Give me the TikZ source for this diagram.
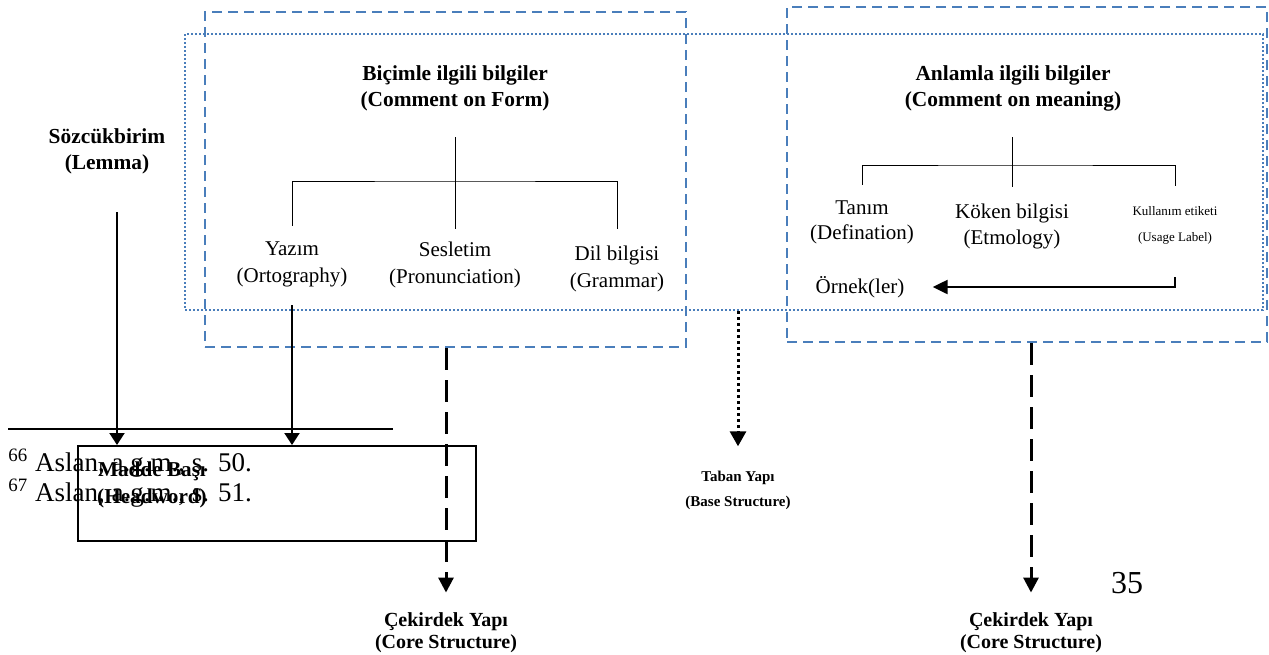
\documentclass[tikz,border=0pt]{standalone}
\usepackage{fontspec}
\setmainfont{Liberation Serif}
\usetikzlibrary{arrows.meta}
\definecolor{boxblue}{RGB}{74,126,187}

\begin{document}
\begin{tikzpicture}[x=0.5pt,y=-0.5pt,every node/.style={align=center,inner sep=0pt},
    txt/.style={font=\fontsize{10.5}{13}\selectfont},
    head/.style={font=\fontsize{10.7}{13}\selectfont\bfseries},
    core/.style={font=\fontsize{10}{11}\selectfont\bfseries},
    bluedash/.style={draw=boxblue,line width=1pt,dash pattern=on 5pt off 3pt},
    bluedot/.style={draw=boxblue,line width=1pt,dash pattern=on 1pt off 1pt},
    branch/.style={line width=0.5pt},
    arr/.style={line width=1pt,-{Triangle[width=7.5pt,length=6pt]}},
    dasharr/.style={line width=1.5pt,dash pattern=on 11pt off 5pt,-{Triangle[width=7.5pt,length=7.5pt]}},
    dotarr/.style={line width=1.5pt,dash pattern=on 1.5pt off 1.5pt,-{Triangle[width=8pt,length=7.5pt]}}]
\useasboundingbox (0,0) rectangle (1269,654);

\node[bluedash,minimum width=240.5pt,minimum height=167.5pt] (formbox) at (445.5,179.5) {};
\node[bluedash,minimum width=240pt,minimum height=167.5pt] (meanbox) at (1027,174.5) {};
\node[bluedot,minimum width=539pt,minimum height=138pt] (basebox) at (724,172) {};

% comment on form
\node[head] (form) at (455,88) {Biçimle ilgili bilgiler\\(Comment on Form)};
\node[txt,font=\fontsize{10.5}{13.5}\selectfont] (yazim) at (292,264) {Yazım\\(Ortography)};
\node[txt,font=\fontsize{10.5}{13.5}\selectfont] (ses) at (455,265) {Sesletim\\(Pronunciation)};
\node[txt,font=\fontsize{10.5}{13.5}\selectfont] (dil) at (617,269) {Dil bilgisi\\(Grammar)};
\coordinate (fs) at (455,137);
\coordinate (fj) at (455,181);
\draw[branch] (fs) -- ([yshift=6.5pt]ses.north);
\draw[branch] ([yshift=7.5pt]yazim.north) |- (fj) -| ([yshift=8.5pt]dil.north);

% comment on meaning
\node[head] (meaning) at (1013,88) {Anlamla ilgili bilgiler\\(Comment on meaning)};
\node[txt,font=\fontsize{10.5}{12.5}\selectfont] (tanim) at (862,222) {Tanım\\(Defination)};
\node[txt] (koken) at (1012,226) {Köken bilgisi\\(Etmology)};
\node[font=\fontsize{6.5}{13}\selectfont] (label) at (1175,225) {Kullanım etiketi\\(Usage Label)};
\node[txt] (ornek) at (860,287) {Örnek(ler)};
\coordinate (ms) at (1012,137);
\coordinate (mj) at (1012,165);
\draw[branch] (ms) -- ([yshift=8pt]koken.north);
\draw[branch] ([yshift=7.5pt]tanim.north) |- (mj) -| ([yshift=10pt]label.north);
\coordinate (lk) at (1175,277);
\draw[line width=1.2pt,-{Triangle[width=7pt,length=7.5pt]}] (lk) |- ([xshift=14pt]ornek.east);

% lemma and headword
\node[head] (lemma) at (107,151) {Sözcükbirim\\(Lemma)};
\draw[line width=0.7pt] (8,429) -- (393,429);
\node[anchor=west,align=left,font=\fontsize{13.5}{15}\selectfont] (notes) at (8,478)
  {\textsuperscript{66} Aslan, a.g.m., s. 50.\\\textsuperscript{67} Aslan, a.g.m., s. 51.};
\node[draw,line width=1pt,minimum width=199pt,minimum height=47.5pt] (headbox) at (277,493.5) {};
\node[font=\fontsize{10.6}{13.5}\selectfont\bfseries] (headword) at (152,485) {Madde Başı\\(Headword)};
\coordinate (la) at (117,212);
\coordinate (ya) at (292,305);
\draw[arr] (la) -- (la |- headbox.north);
\draw[arr] (ya) -- (ya |- headbox.north);

% structures
\node[font=\fontsize{7.5}{12.5}\selectfont\bfseries] (base) at (738,490) {Taban Yapı\\(Base Structure)};
\node[core] (core1) at (446,633) {Çekirdek Yapı\\(Core Structure)};
\node[core] (core2) at (1031,633) {Çekirdek Yapı\\(Core Structure)};
\draw[dotarr,shorten >=12pt] (basebox.south -| base) -- (base.north);
\draw[dasharr,shorten >=10pt] (formbox.south -| core1) -- (core1.north);
\draw[dasharr,shorten >=10pt] (meanbox.south -| core2) -- (core2.north);
\node[font=\fontsize{16}{16}\selectfont] (page) at (1127,583) {35};
\end{tikzpicture}
\end{document}
